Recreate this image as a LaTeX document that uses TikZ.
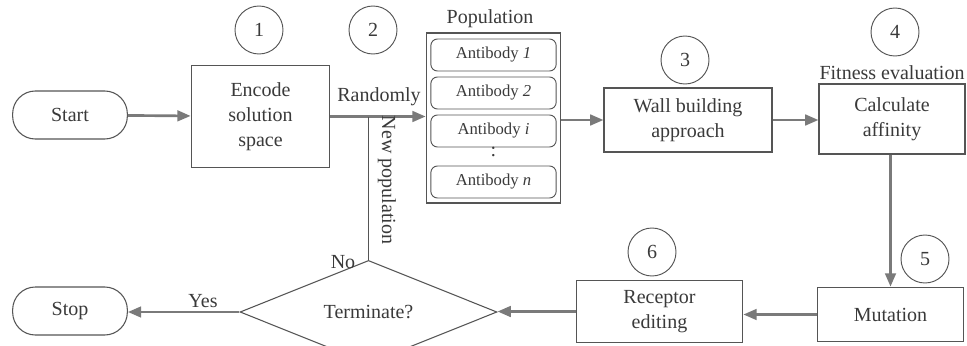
\documentclass[tikz,border=0pt]{standalone}
\usepackage{fontspec}
\setmainfont{Liberation Serif}
\usetikzlibrary{arrows.meta,shapes.geometric}
\definecolor{boxline}{HTML}{555555}
\definecolor{flowline}{HTML}{7A7A7A}
\definecolor{txt}{HTML}{3A3A3A}
\tikzset{
  every node/.style={text=txt, font=\rmfamily\fontsize{15}{18.75}\selectfont},
  procbox/.style={draw=boxline, line width=0.8pt, align=center, inner sep=0pt},
  termbox/.style={draw=boxline, line width=0.8pt, rounded corners=17pt, minimum width=86pt, minimum height=36pt, inner sep=0pt},
  abbox/.style={draw=boxline, line width=0.7pt, rounded corners=5pt, minimum width=94pt, minimum height=24pt, inner sep=0pt, font=\rmfamily\fontsize{12.5}{15}\selectfont},
  numcirc/.style={draw=boxline, line width=0.7pt, circle, minimum size=36pt, inner sep=0pt},
  flow/.style={draw=flowline, line width=2pt, -{Triangle[length=10pt,width=8pt,fill=flowline]}},
  joinline/.style={draw=boxline, line width=1.3pt},
}
\begin{document}
\begin{tikzpicture}[x=0.75pt,y=-0.75pt]
\useasboundingbox (0,0) rectangle (967,346);
\clip (0,0) rectangle (967,346);
\fill[white] (0,0) rectangle (967,346);
% terminals
\node[termbox] (start) at (70,115) {Start};
\node[termbox] (stop) at (70,311) {Stop};
% process boxes
\node[procbox, minimum width=104pt, minimum height=77pt] (enc) at (260.5,116.5) {Encode\\solution\\space};
\node[draw=boxline, line width=0.8pt, minimum width=101pt, minimum height=127.5pt, inner sep=0pt] (pop) at (493.5,118) {};
\node (poplab) at (490,19) {Population};
\node[abbox] (ab1) at (493.5,55) {Antibody \textit{1}};
\node[abbox] (ab2) at (493.5,93) {Antibody \textit{2}};
\node[abbox] (abi) at (493.5,131) {Antibody \textit{i}};
\node (dots) at (493.5,152) {:};
\node[abbox] (abn) at (493.5,182) {Antibody \textit{n}};
\node[procbox, minimum width=126pt, minimum height=48pt] (wall) at (688,120) {Wall building\\approach};
\node[procbox, minimum width=109.5pt, minimum height=52.5pt] (calc) at (892,119) {Calculate\\affinity};
\node (fitlab) at (892,73) {Fitness evaluation};
\node[procbox, minimum width=109pt, minimum height=41pt] (mut) at (890.5,314.5) {Mutation};
\node[procbox, minimum width=125pt, minimum height=47pt] (rec) at (659.5,311.5) {Receptor\\editing};
\node[draw=boxline, line width=0.8pt, diamond, minimum width=192.75pt, minimum height=60pt, inner sep=0pt] (term) at (368.5,312) {Terminate?};
% numbered circles
\node[numcirc] (c1) at (259,30) {1};
\node[numcirc] (c2) at (373,30) {2};
\node[numcirc] (c3) at (685,60) {3};
\node[numcirc] (c4) at (895,32) {4};
\node[numcirc] (c5) at (925,259) {5};
\node[numcirc] (c6) at (652,252) {6};
% connectors
\draw[flow] (start) -- (enc);
\draw[flow] (enc.east) -- (enc.east -| pop.west);
\coordinate (join) at (term.north |- enc.east);
\draw[joinline] (term.north) -- (join);
\draw[flow] (pop.east |- wall.west) -- (wall.west);
\draw[flow] (wall.east) -- (wall.east -| calc.west);
\draw[flow] (calc.south -| mut.north) -- (mut.north);
\draw[flow] (mut.west) -- (mut.west -| rec.east);
\draw[flow] (rec.west) -- (rec.west -| term.east);
\draw[flow] (term.west) -- (term.west -| stop.east);
% labels
\node (rnd) at (379,97) {Randomly};
\node[rotate=-90] (newpop) at (387,180) {New population};
\node (nolab) at (343,262) {No};
\node (yeslab) at (203,301) {Yes};
\end{tikzpicture}
\end{document}
